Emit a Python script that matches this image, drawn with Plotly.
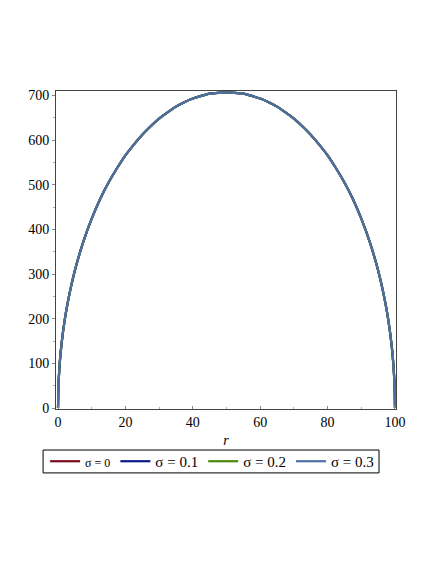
import plotly.graph_objects as go

# r values and curve values (all four curves coincide)
r_vals = [0, 0.1, 0.2, 0.5, 1, 2, 3, 5, 7.5, 10, 12.5, 15, 17.5, 20, 22.5, 25, 27.5, 30, 32.5, 35,
          37.5, 40, 42.5, 45, 47.5, 50, 52.5, 55, 57.5, 60, 62.5, 65, 67.5, 70, 72.5, 75, 77.5,
          80, 82.5, 85, 87.5, 90, 92.5, 95, 97, 98, 99, 99.5, 99.8, 99.9, 100]
y_vals = [0, 45, 63, 100, 141, 198, 241, 308, 372, 424, 468, 505, 537, 566, 590, 612, 631, 648, 662, 675,
          685, 693, 699, 704, 706, 707, 706, 704, 699, 693, 685, 675, 662, 648, 631, 612, 590,
          566, 537, 505, 468, 424, 372, 308, 241, 198, 141, 100, 63, 45, 0]

series_names = ["σ = 0", "σ = 0.1", "σ = 0.2", "σ = 0.3"]
series_colors = ["#7b0a1e", "#0a1a8c", "#4a8a0a", "#4e6fa3"]
legend_labels = ["<span style='font-size:12px'>σ = 0</span>", "σ = 0.1", "σ = 0.2", "σ = 0.3"]

x_ticks = [0, 20, 40, 60, 80, 100]
y_ticks = [0, 100, 200, 300, 400, 500, 600, 700]

fig = go.Figure()
for name, col, lab in zip(series_names, series_colors, legend_labels):
    fig.add_trace(go.Scatter(x=r_vals, y=y_vals, mode="lines", name=lab,
                             line=dict(color=col, width=2.2, shape="spline", smoothing=0.5)))

font = "Liberation Serif, Times New Roman, serif"
fig.add_shape(type="rect", xref="paper", yref="paper", x0=-0.038, x1=0.95, y0=-0.201, y1=-0.129,
              line=dict(color="black", width=1), fillcolor="rgba(0,0,0,0)")
fig.update_layout(
    width=428, height=556,
    margin=dict(l=48, r=40, t=83, b=155),
    paper_bgcolor="white", plot_bgcolor="white",
    font=dict(family=font, size=14, color="black"),
    showlegend=True,
    legend=dict(orientation="h", x=-0.032, y=-0.165, xanchor="left", yanchor="middle",
                borderwidth=0, bgcolor="rgba(0,0,0,0)", font=dict(size=15, family=font),
                itemwidth=30, tracegroupgap=0, traceorder="normal"),
    xaxis=dict(range=[-0.6, 100.3], tickvals=x_ticks, ticktext=[str(v) for v in x_ticks],
               showgrid=False, zeroline=False, showline=True, linecolor="#444", linewidth=1,
               mirror=True, ticks="inside", ticklen=3, tickcolor="#888",
               minor=dict(dtick=10, ticks="inside", ticklen=2, tickcolor="#aaa"),
               title=dict(text="<i>r</i>", font=dict(size=14, family=font), standoff=6)),
    yaxis=dict(range=[-2.2, 710], tickvals=y_ticks, ticktext=[str(v) for v in y_ticks],
               showgrid=False, zeroline=False, showline=True, linecolor="#444", linewidth=1,
               mirror=True, ticks="outside", ticklen=3, tickcolor="#888",
               minor=dict(dtick=50, ticks="outside", ticklen=2, tickcolor="#aaa")),
)
fig.write_html("out.html")
